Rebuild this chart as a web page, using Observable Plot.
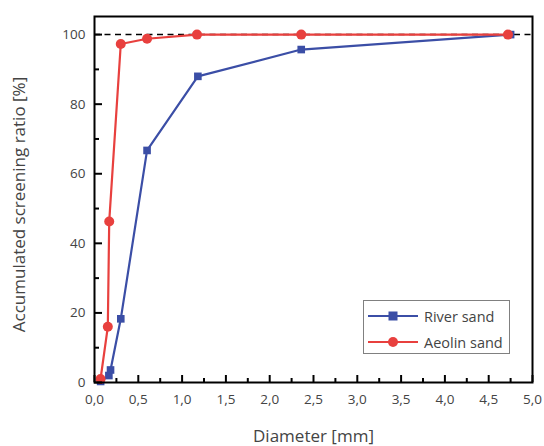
<!DOCTYPE html>
<html><head><meta charset="utf-8">
<script src="https://cdn.jsdelivr.net/npm/d3@7"></script>
<script src="https://cdn.jsdelivr.net/npm/@observablehq/plot@0.6"></script>
<style>
body{margin:0;background:#fff;font-family:"Open Sans",sans-serif}
#wrap{position:relative;width:544px;height:446px}
#legend{position:absolute;left:363px;top:300px;width:147px;height:54px;border:1px solid #808080;background:#fff;box-sizing:border-box;font-size:14.5px;color:#444}
.item{position:absolute;left:4px;height:20px;display:flex;align-items:center}
.item span{margin-left:6px}
</style></head><body><div id="wrap"><div id="legend"></div></div>
<script>
const riverX = [0.07, 0.164, 0.183, 0.30, 0.60, 1.18, 2.36, 4.75];
const riverY = [0.3, 2.0, 3.6, 18.3, 66.7, 88.0, 95.7, 100];
const aeolinX = [0.069, 0.152, 0.168, 0.30, 0.60, 1.17, 2.36, 4.72];
const aeolinY = [1.0, 16.0, 46.3, 97.3, 98.8, 100, 100, 100];
const seriesNames = ["River sand", "Aeolin sand"];
const colors = ["#3b4ea6", "#e8403e"];
const xMajor = [0, 0.5, 1, 1.5, 2, 2.5, 3, 3.5, 4, 4.5, 5];
const xMinor = [0.25, 0.75, 1.25, 1.75, 2.25, 2.75, 3.25, 3.75, 4.25, 4.75];
const yMajor = [0, 20, 40, 60, 80, 100];
const yMinor = [10, 30, 50, 70, 90];
const xTitle = "Diameter [mm]";
const yTitle = "Accumulated screening ratio [%]";

const river = riverX.map((x, i) => ({x, y: riverY[i]}));
const aeolin = aeolinX.map((x, i) => ({x, y: aeolinY[i]}));
const fmt = d => d.toFixed(1).replace(".", ",");

const chart = Plot.plot({
  width: 544, height: 446,
  marginLeft: 94, marginRight: 12, marginTop: 16, marginBottom: 64,
  style: {fontFamily: '"Open Sans", sans-serif', fontSize: "13.5px", color: "#000", background: "#fff"},
  x: {domain: [0, 5]},
  y: {domain: [0, 105.2]},
  marks: [
    Plot.ruleY([100], {stroke: "#000", strokeWidth: 1.5, strokeDasharray: "6,4.5"}),
    Plot.line(river, {x: "x", y: "y", stroke: colors[0], strokeWidth: 2.2}),
    Plot.dot(river, {x: "x", y: "y", symbol: "square", r: 4.3, fill: colors[0]}),
    Plot.line(aeolin, {x: "x", y: "y", stroke: colors[1], strokeWidth: 2.2}),
    Plot.dot(aeolin, {x: "x", y: "y", symbol: "circle", r: 5, fill: colors[1]}),
    Plot.axisX({ticks: xMajor, tickSize: 7, dy: -7, fill: "none", stroke: "#000", strokeWidth: 2, label: null}),
    Plot.axisX({ticks: xMinor, tickSize: 4, dy: -4, fill: "none", stroke: "#000", strokeWidth: 2, label: null}),
    Plot.axisY({ticks: yMajor, tickSize: 8, dx: 8, fill: "none", stroke: "#000", strokeWidth: 2, label: null}),
    Plot.axisY({ticks: yMinor, tickSize: 5, dx: 5, fill: "none", stroke: "#000", strokeWidth: 2, label: null}),
    Plot.axisX({ticks: xMajor, tickSize: 0, tickPadding: 12, tickFormat: fmt, fill: "#444", label: null}),
    Plot.axisY({ticks: yMajor, tickSize: 0, tickPadding: 9, tickFormat: d => String(d), fill: "#444", label: null}),
    Plot.frame({stroke: "#000", strokeWidth: 2}),
    Plot.text([xTitle], {frameAnchor: "bottom", textAnchor: "middle", dy: 59, fontSize: 17, fill: "#444"}),
    Plot.text([yTitle], {frameAnchor: "left", textAnchor: "middle", lineAnchor: "middle", dx: -75, dy: 5, rotate: -90, fontSize: 17, fill: "#444"})
  ]
});
document.getElementById("wrap").prepend(chart);
chart.style.display = "block";

const legend = d3.select("#legend");
seriesNames.forEach((name, i) => {
  const it = legend.append("div").attr("class", "item").style("top", (i === 0 ? 5 : 31) + "px");
  const s = it.append("svg").attr("width", 50).attr("height", 12);
  s.append("line").attr("x1", 0).attr("x2", 50).attr("y1", 6).attr("y2", 6).attr("stroke", colors[i]).attr("stroke-width", 2.2);
  if (i === 0) s.append("rect").attr("x", 20.5).attr("y", 1.5).attr("width", 9).attr("height", 9).attr("fill", colors[i]);
  else s.append("circle").attr("cx", 25).attr("cy", 6).attr("r", 5).attr("fill", colors[i]);
  it.append("span").text(name);
});
</script>
</body></html>
